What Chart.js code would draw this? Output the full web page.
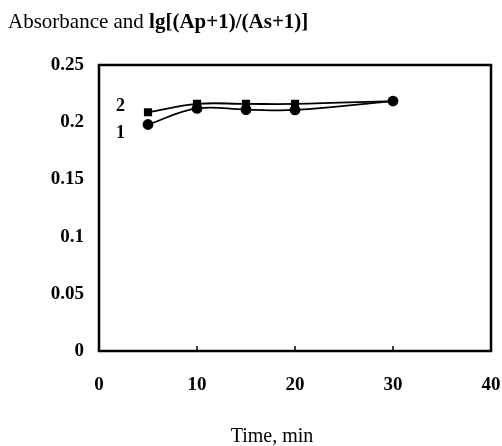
<!DOCTYPE html>
<html>
<head>
<meta charset="utf-8">
<script src="https://cdn.jsdelivr.net/npm/chart.js@4.4.1/dist/chart.umd.min.js"></script>
<style>
  html, body { margin: 0; padding: 0; background: #fff; }
  #wrap { width: 502px; height: 446px; }
</style>
</head>
<body>
<div id="wrap"><canvas id="chart"></canvas></div>
<script>
// data
const times = [5, 10, 15, 20, 30];
const curve1 = [0.198, 0.212, 0.211, 0.2107, 0.2185]; // circles
const curve2 = [0.2087, 0.216, 0.216, 0.216, 0.2185]; // squares
const xTicks = [0, 10, 20, 30, 40];
const yTicks = [0, 0.05, 0.1, 0.15, 0.2, 0.25];

const serif = "'Liberation Serif', 'Times New Roman', serif";

function toPoints(xs, ys) {
  return xs.map((x, i) => ({ x: x, y: ys[i] }));
}

// frame, inward ticks, titles and curve numbers
const decorations = {
  id: "decorations",
  afterDraw(chart) {
    const ctx = chart.ctx;
    const area = chart.chartArea;
    const xs = chart.scales.x;
    const ys = chart.scales.y;
    ctx.save();

    ctx.strokeStyle = "#000";
    ctx.lineWidth = 2.5;
    ctx.strokeRect(area.left, area.top, area.right - area.left, area.bottom - area.top);

    ctx.lineWidth = 1.5;
    xTicks.slice(1, -1).forEach((t) => {
      const px = xs.getPixelForValue(t);
      ctx.beginPath();
      ctx.moveTo(px, area.bottom);
      ctx.lineTo(px, area.bottom - 5);
      ctx.stroke();
    });

    ctx.fillStyle = "#000";
    ctx.textBaseline = "alphabetic";
    ctx.textAlign = "left";
    ctx.font = "21px " + serif;
    const part1 = "Absorbance and ";
    ctx.fillText(part1, 8, 28);
    const w1 = ctx.measureText(part1).width;
    ctx.font = "bold 21px " + serif;
    ctx.fillText("lg[(Ap+1)/(As+1)]", 8 + w1, 28);

    ctx.font = "20px " + serif;
    ctx.textAlign = "center";
    ctx.textBaseline = "middle";
    ctx.fillText("Time, min", 272, 437);

    ctx.font = "bold 18px " + serif;
    ctx.fillText("2", xs.getPixelForValue(2.2), ys.getPixelForValue(0.2135));
    ctx.fillText("1", xs.getPixelForValue(2.2), ys.getPixelForValue(0.1905));
    ctx.restore();
  },
};

new Chart(document.getElementById("chart"), {
  type: "scatter",
  data: {
    datasets: [
      {
        label: "2",
        data: toPoints(times, curve2),
        showLine: true,
        borderColor: "#000",
        backgroundColor: "#000",
        borderWidth: 1.8,
        pointStyle: "rect",
        pointRadius: 4.5,
        tension: 0.4,
      },
      {
        label: "1",
        data: toPoints(times, curve1),
        showLine: true,
        borderColor: "#000",
        backgroundColor: "#000",
        borderWidth: 1.8,
        pointStyle: "circle",
        pointRadius: 4.5,
        tension: 0.4,
      },
    ],
  },
  options: {
    responsive: true,
    maintainAspectRatio: false,
    animation: false,
    layout: { padding: { top: 65, right: 11, left: 0, bottom: 0 } },
    plugins: {
      legend: { display: false },
      tooltip: { enabled: false },
    },
    scales: {
      x: {
        type: "linear",
        min: 0,
        max: 40,
        afterFit(scale) {
          scale.height = 95;
          scale.paddingLeft = 0;
          scale.paddingRight = 0;
        },
        afterBuildTicks(scale) { scale.ticks = xTicks.map((v) => ({ value: v })); },
        grid: { display: false, drawTicks: false },
        border: { display: false },
        ticks: {
          padding: 23,
          color: "#000",
          font: { family: serif, size: 19, weight: "bold" },
        },
      },
      y: {
        min: 0,
        max: 0.25,
        afterFit(scale) {
          scale.width = 99;
          scale.paddingTop = 0;
          scale.paddingBottom = 0;
        },
        afterBuildTicks(scale) { scale.ticks = yTicks.map((v) => ({ value: v })); },
        grid: { display: false, drawTicks: false },
        border: { display: false },
        ticks: {
          padding: 15,
          color: "#000",
          font: { family: serif, size: 19, weight: "bold" },
          callback: (v) => String(Math.round(v * 100) / 100),
        },
      },
    },
  },
  plugins: [decorations],
});
</script>
</body>
</html>
